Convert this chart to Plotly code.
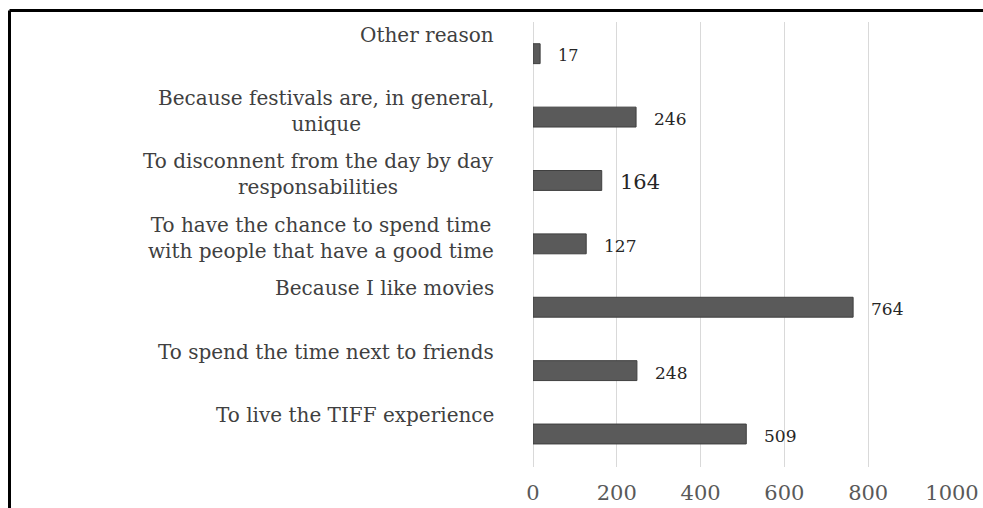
import plotly.graph_objects as go

categories = [
    "Other reason",
    "Because festivals are, in general,<br>unique",
    "To disconnent from the day by day<br>responsabilities",
    "To have the chance to spend time<br>with people that have a good time",
    "Because I like movies",
    "To spend the time next to friends",
    "To live the TIFF experience",
]
values = [17, 246, 164, 127, 764, 248, 509]
label_sizes = [16, 17, 21, 17, 17, 17, 17]
x_ticks = [0, 200, 400, 600, 800, 1000]

W, H = 983, 508
ML, MR, MT, MB = 533, 31, 22, 41
PW = W - ML - MR
PH = H - MT - MB

fig = go.Figure()
fig.add_trace(go.Bar(
    x=values, y=categories, orientation="h",
    marker=dict(color="#5a5a5a", line=dict(color="#3f3f3f", width=1)),
    hoverinfo="x+y", showlegend=False,
))

annotations = []
for c in categories:
    annotations.append(dict(
        x=0, xref="paper", y=c, yref="y", xanchor="right", yanchor="top",
        xshift=-37, yshift=33, text=c, showarrow=False, align="center",
        font=dict(family="DejaVu Serif", size=20, color="#404040"),
    ))
for c, v, s in zip(categories, values, label_sizes):
    annotations.append(dict(
        x=v, xref="x", y=c, yref="y", xanchor="left", yanchor="middle",
        xshift=16, yshift=-2, text=str(v), showarrow=False,
        font=dict(family="DejaVu Serif", size=s, color="#262626"),
    ))

bx = (9.5 - ML) / PW
by = 1 + (MT - 10.5) / PH
fig.update_layout(
    width=W, height=H, autosize=False,
    margin=dict(l=ML, r=MR, t=MT, b=MB, pad=0, autoexpand=False),
    paper_bgcolor="white", plot_bgcolor="white",
    bargap=0.686,
    annotations=annotations,
    xaxis=dict(
        range=[0, 1000], tickvals=x_ticks, ticktext=[str(t) for t in x_ticks],
        showgrid=True, gridcolor="#d9d9d9", gridwidth=1,
        zeroline=True, zerolinecolor="#d9d9d9", zerolinewidth=1,
        showline=False, ticks="", ticklabelstandoff=11, automargin=False,
        tickfont=dict(family="DejaVu Serif", size=21, color="#595959"),
        fixedrange=True,
    ),
    yaxis=dict(
        categoryorder="array", categoryarray=categories, autorange="reversed",
        showticklabels=False, showgrid=False, zeroline=False, showline=False,
        ticks="", fixedrange=True, automargin=False,
    ),
    shapes=[
        dict(type="line", xref="paper", yref="paper",
             x0=bx, x1=(W - ML) / PW, y0=by, y1=by,
             line=dict(color="black", width=3), layer="above"),
        dict(type="line", xref="paper", yref="paper",
             x0=bx, x1=bx, y0=by, y1=-MB / PH,
             line=dict(color="black", width=3), layer="above"),
    ],
)

fig.write_html(
    "out.html",
    config={"displayModeBar": False, "responsive": False},
    post_script="document.body.style.margin='0';document.body.style.overflow='hidden';",
)
